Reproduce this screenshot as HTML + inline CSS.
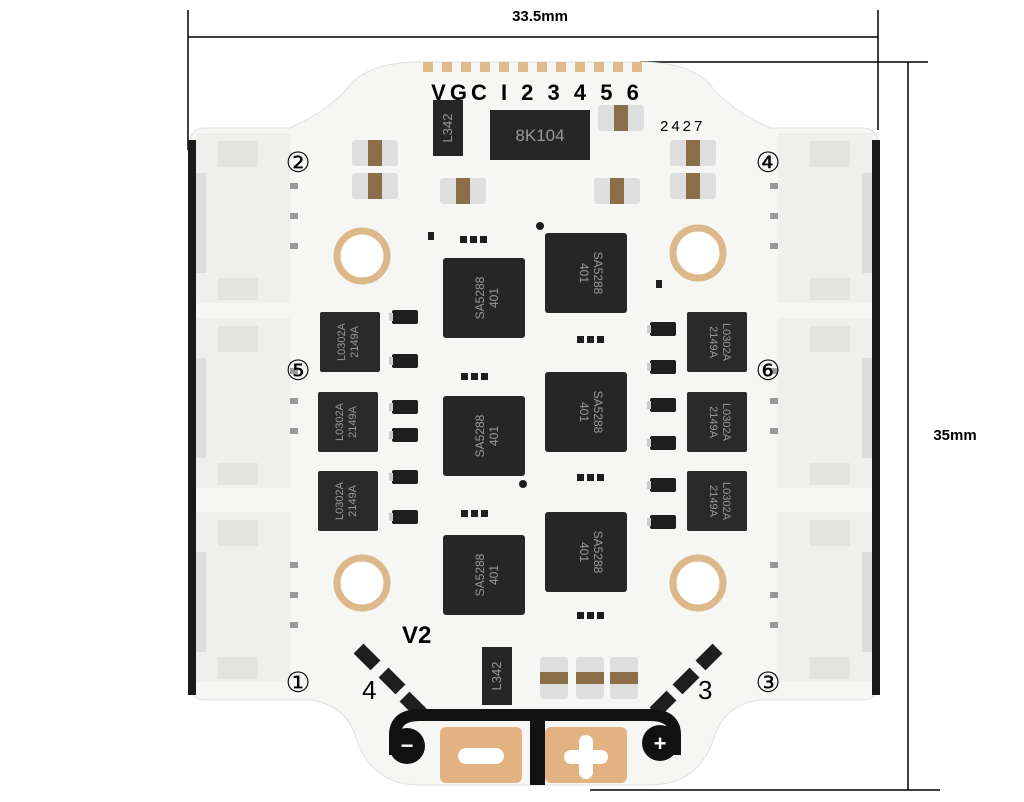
<!DOCTYPE html>
<html><head><meta charset="utf-8"><style>
html,body{margin:0;padding:0;background:#fff;width:1024px;height:802px;overflow:hidden}
svg{display:block}
text{font-family:"Liberation Sans","DejaVu Sans",sans-serif}
</style></head><body>
<svg width="1024" height="802" viewBox="0 0 1024 802" xmlns="http://www.w3.org/2000/svg">
<defs>
<g id="sa"><rect x="0" y="0" width="82" height="80" rx="3" fill="#262626"/></g>
<g id="lo"><rect x="0" y="0" width="60" height="60" rx="2" fill="#2a2a2a"/></g>
<g id="dio"><rect x="0" y="0" width="26" height="14" rx="2" fill="#1e1e1e"/><rect x="-3" y="3" width="4" height="8" fill="#ccc"/></g>
<g id="cap"><rect x="0" y="0" width="46" height="26" rx="3" fill="#dedede"/><rect x="16" y="0" width="14" height="26" fill="#8a6f4a"/></g>
<g id="conn">
<rect x="196" y="0" width="94" height="170" fill="#efefed"/>
<rect x="218" y="8" width="40" height="26" fill="#e3e3e1"/>
<rect x="218" y="145" width="40" height="22" fill="#e3e3e1"/>
<rect x="196" y="40" width="10" height="100" fill="#ddd"/>
<rect x="290" y="50" width="8" height="6" fill="#999"/>
<rect x="290" y="80" width="8" height="6" fill="#999"/>
<rect x="290" y="110" width="8" height="6" fill="#999"/>
</g>
</defs>
<line x1="188" y1="10" x2="188" y2="150" stroke="#000" stroke-width="1.5"/>
<line x1="878" y1="10" x2="878" y2="130" stroke="#000" stroke-width="1.5"/>
<line x1="188" y1="37" x2="878" y2="37" stroke="#000" stroke-width="1.5"/>
<text x="540" y="21" font-size="15" font-weight="bold" text-anchor="middle">33.5mm</text>
<line x1="640" y1="62" x2="928" y2="62" stroke="#000" stroke-width="1.5"/>
<line x1="908" y1="62" x2="908" y2="790" stroke="#000" stroke-width="1.5"/>
<line x1="590" y1="790" x2="940" y2="790" stroke="#000" stroke-width="1.5"/>
<text x="955" y="440" font-size="15" font-weight="bold" text-anchor="middle">35mm</text>
<path d="M205 128 L290 128 Q330 110 350 85 Q370 62 420 62 L640 62 Q690 62 710 85 Q730 110 770 128 L862 128 Q878 128 878 144 L878 685 Q878 700 862 700 L760 700 Q725 705 715 735 Q700 785 650 785 L420 785 Q370 785 355 735 Q345 705 310 700 L205 700 Q190 700 190 685 L190 144 Q190 128 205 128 Z" fill="#f6f6f5" stroke="#e0e0e0"/>
<rect x="188" y="140" width="8" height="555" fill="#1a1a1a"/>
<rect x="872" y="140" width="8" height="555" fill="#1a1a1a"/>
<use href="#conn" transform="translate(0,133)"/>
<use href="#conn" transform="translate(0,318)"/>
<use href="#conn" transform="translate(0,512)"/>
<g transform="translate(1068,0) scale(-1,1)">
<use href="#conn" transform="translate(0,133)"/>
<use href="#conn" transform="translate(0,318)"/>
<use href="#conn" transform="translate(0,512)"/>
</g>
<g fill="#e0b98c">
<rect x="423" y="62" width="10" height="10"/><rect x="442" y="62" width="10" height="10"/><rect x="461" y="62" width="10" height="10"/><rect x="480" y="62" width="10" height="10"/><rect x="499" y="62" width="10" height="10"/><rect x="518" y="62" width="10" height="10"/><rect x="537" y="62" width="10" height="10"/><rect x="556" y="62" width="10" height="10"/><rect x="575" y="62" width="10" height="10"/><rect x="594" y="62" width="10" height="10"/><rect x="613" y="62" width="10" height="10"/><rect x="632" y="62" width="10" height="10"/>
</g>
<text x="537" y="100" font-size="22" font-weight="bold" text-anchor="middle" letter-spacing="4">VGC I 2 3 4 5 6</text>
<rect x="433" y="100" width="30" height="56" fill="#262626"/>
<text x="452" y="128" font-size="13" fill="#999" transform="rotate(-90 452 128)" text-anchor="middle">L342</text>
<rect x="490" y="110" width="100" height="50" fill="#262626"/>
<text x="540" y="141" font-size="17" fill="#999" text-anchor="middle">8K104</text>
<text x="660" y="131" font-size="15" font-family="Liberation Mono" letter-spacing="3">2427</text>
<use href="#cap" transform="translate(352,140)"/><use href="#cap" transform="translate(352,173)"/>
<use href="#cap" transform="translate(670,140)"/><use href="#cap" transform="translate(670,173)"/>
<use href="#cap" transform="translate(598,105)"/>
<use href="#cap" transform="translate(440,178)"/><use href="#cap" transform="translate(594,178)"/>
<g font-size="28" text-anchor="middle">
<text x="298" y="172">②</text><text x="768" y="172">④</text>
<text x="298" y="380">⑤</text><text x="768" y="380">⑥</text>
<text x="298" y="692">①</text><text x="768" y="692">③</text>
</g>
<g fill="#fff" stroke="#dcb88a" stroke-width="7">
<circle cx="362" cy="256" r="25"/><circle cx="698" cy="253" r="25"/>
<circle cx="362" cy="583" r="25"/><circle cx="698" cy="583" r="25"/>
</g>
<use href="#sa" x="443" y="258"/><use href="#sa" x="545" y="233"/>
<use href="#sa" x="443" y="396"/><use href="#sa" x="545" y="372"/>
<use href="#sa" x="443" y="535"/><use href="#sa" x="545" y="512"/>
<g font-size="12" fill="#999" text-anchor="middle">
<text transform="translate(484,298) rotate(-90)">SA5288</text><text transform="translate(498,298) rotate(-90)">401</text>
<text transform="translate(580,273) rotate(90)">401</text><text transform="translate(594,273) rotate(90)">SA5288</text>
<text transform="translate(484,436) rotate(-90)">SA5288</text><text transform="translate(498,436) rotate(-90)">401</text>
<text transform="translate(580,412) rotate(90)">401</text><text transform="translate(594,412) rotate(90)">SA5288</text>
<text transform="translate(484,575) rotate(-90)">SA5288</text><text transform="translate(498,575) rotate(-90)">401</text>
<text transform="translate(580,552) rotate(90)">401</text><text transform="translate(594,552) rotate(90)">SA5288</text>
</g>
<use href="#lo" x="320" y="312"/><use href="#lo" x="318" y="392"/><use href="#lo" x="318" y="471"/>
<use href="#lo" x="687" y="312"/><use href="#lo" x="687" y="392"/><use href="#lo" x="687" y="471"/>
<g font-size="11" fill="#999" text-anchor="middle">
<text transform="translate(345,342) rotate(-90)">L0302A</text><text transform="translate(358,342) rotate(-90)">2149A</text>
<text transform="translate(343,422) rotate(-90)">L0302A</text><text transform="translate(356,422) rotate(-90)">2149A</text>
<text transform="translate(343,501) rotate(-90)">L0302A</text><text transform="translate(356,501) rotate(-90)">2149A</text>
<text transform="translate(710,342) rotate(90)">2149A</text><text transform="translate(723,342) rotate(90)">L0302A</text>
<text transform="translate(710,422) rotate(90)">2149A</text><text transform="translate(723,422) rotate(90)">L0302A</text>
<text transform="translate(710,501) rotate(90)">2149A</text><text transform="translate(723,501) rotate(90)">L0302A</text>
</g>
<use href="#dio" x="392" y="310"/><use href="#dio" x="392" y="354"/><use href="#dio" x="392" y="400"/>
<use href="#dio" x="392" y="428"/><use href="#dio" x="392" y="470"/><use href="#dio" x="392" y="510"/>
<use href="#dio" x="650" y="322"/><use href="#dio" x="650" y="360"/><use href="#dio" x="650" y="398"/>
<use href="#dio" x="650" y="436"/><use href="#dio" x="650" y="478"/><use href="#dio" x="650" y="515"/>
<g fill="#1e1e1e">
<rect x="460" y="236" width="7" height="7"/><rect x="470" y="236" width="7" height="7"/><rect x="480" y="236" width="7" height="7"/>
<rect x="461" y="373" width="7" height="7"/><rect x="471" y="373" width="7" height="7"/><rect x="481" y="373" width="7" height="7"/>
<rect x="577" y="336" width="7" height="7"/><rect x="587" y="336" width="7" height="7"/><rect x="597" y="336" width="7" height="7"/>
<rect x="577" y="474" width="7" height="7"/><rect x="587" y="474" width="7" height="7"/><rect x="597" y="474" width="7" height="7"/>
<rect x="461" y="510" width="7" height="7"/><rect x="471" y="510" width="7" height="7"/><rect x="481" y="510" width="7" height="7"/>
<rect x="577" y="612" width="7" height="7"/><rect x="587" y="612" width="7" height="7"/><rect x="597" y="612" width="7" height="7"/>
<circle cx="540" cy="226" r="4"/><circle cx="523" cy="484" r="4"/>
<rect x="428" y="232" width="6" height="8"/><rect x="656" y="280" width="6" height="8"/>
</g>
<text x="402" y="643" font-size="24" font-weight="bold">V2</text>
<rect x="482" y="647" width="30" height="58" fill="#262626"/>
<text transform="translate(501,676) rotate(-90)" font-size="13" fill="#999" text-anchor="middle">L342</text>
<g>
<rect x="540" y="657" width="28" height="42" rx="3" fill="#dedede"/><rect x="540" y="672" width="28" height="12" fill="#8a6f4a"/>
<rect x="576" y="657" width="28" height="42" rx="3" fill="#dedede"/><rect x="576" y="672" width="28" height="12" fill="#8a6f4a"/>
<rect x="610" y="657" width="28" height="42" rx="3" fill="#dedede"/><rect x="610" y="672" width="28" height="12" fill="#8a6f4a"/>
</g>
<g fill="#1e1e1e">
<rect x="-12" y="-7" width="24" height="14" transform="translate(367,657) rotate(45)"/>
<rect x="-12" y="-7" width="24" height="14" transform="translate(392,681) rotate(45)"/>
<rect x="-12" y="-7" width="24" height="14" transform="translate(413,705) rotate(45)"/>
<rect x="-12" y="-7" width="24" height="14" transform="translate(709,657) rotate(-45)"/>
<rect x="-12" y="-7" width="24" height="14" transform="translate(686,681) rotate(-45)"/>
<rect x="-12" y="-7" width="24" height="14" transform="translate(663,704) rotate(-45)"/>
</g>
<text x="362" y="699" font-size="26">4</text>
<text x="698" y="699" font-size="26">3</text>
<!-- black trace outline -->
<path d="M395 755 L395 735 Q395 715 420 715 L650 715 Q675 715 675 735 L675 755" fill="none" stroke="#111" stroke-width="12"/>
<rect x="530" y="715" width="15" height="70" fill="#111"/>
<circle cx="407" cy="746" r="18" fill="#111"/>
<circle cx="660" cy="743" r="18" fill="#111"/>
<text x="407" y="753" font-size="22" font-weight="bold" fill="#fff" text-anchor="middle">−</text>
<text x="660" y="751" font-size="22" font-weight="bold" fill="#fff" text-anchor="middle">+</text>
<rect x="440" y="727" width="82" height="56" rx="6" fill="#e3b282"/>
<rect x="545" y="727" width="82" height="56" rx="6" fill="#e3b282"/>
<rect x="458" y="748" width="46" height="16" rx="8" fill="#fff"/>
<rect x="579" y="735" width="14" height="44" rx="7" fill="#fff"/>
<rect x="564" y="750" width="44" height="14" rx="7" fill="#fff"/>
</svg>
</body></html>
